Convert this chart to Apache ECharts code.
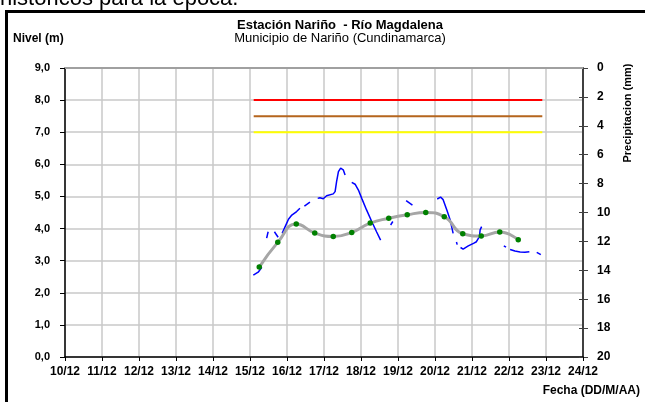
<!DOCTYPE html>
<html>
<head>
<meta charset="utf-8">
<script src="https://cdn.jsdelivr.net/npm/echarts@6/dist/echarts.min.js"></script>
<style>
html,body{margin:0;padding:0;background:#fff;}
#c{width:645px;height:402px;}
</style>
</head>
<body>
<div id="c"></div>
<script>
// ---- data (x = day of December) ----
const xTickLabels = ['10/12','11/12','12/12','13/12','14/12','15/12','16/12','17/12','18/12','19/12','20/12','21/12','22/12','23/12','24/12'];
const levelTicksLeft = ['0,0','1,0','2,0','3,0','4,0','5,0','6,0','7,0','8,0','9,0'];

// threshold levels (red, brown, yellow)
const thresholdStart = 15.1;
const thresholdEnd = 22.9;
const thresholdRed = 8.0;
const thresholdBrown = 7.5;
const thresholdYellow = 7.0;

// smoothed level (gray line, green points)
const smoothDays = [15.25,15.75,16.25,16.75,17.25,17.75,18.25,18.75,19.25,19.75,20.25,20.75,21.25,21.75,22.25];
const smoothLevel = [2.80,3.57,4.14,3.86,3.75,3.88,4.17,4.32,4.43,4.50,4.37,3.84,3.77,3.89,3.65];

// observed level (blue, with gaps marked by null)
const blueDays = [
 15.09,15.22,15.32,null,
 15.45,15.49,null,
 15.66,15.76,null,
 15.87,15.95,16.04,16.13,16.26,16.35,null,
 16.47,16.62,null,
 16.83,16.89,16.98,17.07,17.25,17.30,17.34,17.39,17.45,17.52,17.57,null,
 17.75,17.84,17.93,18.02,18.15,18.29,18.42,18.53,null,
 18.80,18.86,null,
 19.22,19.39,null,
 20.06,20.15,20.22,20.32,20.41,20.49,null,
 20.58,20.60,null,
 20.69,20.76,20.90,21.04,21.12,21.20,21.22,21.26,null,
 21.86,21.92,null,
 22.03,22.16,22.30,22.43,22.55,null,
 22.75,22.86
];
const blueLevel = [
 2.55,2.64,2.79,null,
 3.70,3.90,null,
 3.90,3.73,null,
 3.85,4.06,4.29,4.42,4.53,4.63,null,
 4.70,4.82,null,
 4.94,4.96,4.93,5.02,5.08,5.15,5.46,5.77,5.88,5.83,5.67,null,
 5.44,5.38,5.20,4.94,4.58,4.22,3.90,3.64,null,
 4.11,4.22,null,
 4.87,4.73,null,
 4.92,4.98,4.90,4.58,4.27,3.85,null,
 3.58,3.50,null,
 3.41,3.36,3.46,3.54,3.59,3.75,3.96,4.06,null,
 3.46,3.42,null,
 3.35,3.30,3.27,3.26,3.28,null,
 3.26,3.19
];

// ---- build ----
const FONT = '"Liberation Sans", Arial, sans-serif';
const chart = echarts.init(document.getElementById('c'), null, {renderer:'canvas'});

const blueSegments = [];
let cur = [];
for (let i = 0; i < blueDays.length; i++) {
  if (blueDays[i] === null || blueLevel[i] === null) {
    if (cur.length) blueSegments.push(cur);
    cur = [];
  } else cur.push([blueDays[i], blueLevel[i]]);
}
if (cur.length) blueSegments.push(cur);

const series = [];
function thr(val, color){
  series.push({type:'line', xAxisIndex:0, yAxisIndex:0, data:[[thresholdStart,val],[thresholdEnd,val]],
    showSymbol:false, symbol:'none', lineStyle:{color:color,width:2}, silent:true, z:3});
}
thr(thresholdRed,'#ff0000');
thr(thresholdBrown,'#b5651d');
thr(thresholdYellow,'#ffff00');

blueSegments.forEach(seg => series.push({type:'line', xAxisIndex:0, yAxisIndex:0, data:seg,
  symbol:'none', showSymbol:false, lineStyle:{color:'#0000ff', width:1.5}, silent:true, z:4}));

series.push({type:'line', xAxisIndex:0, yAxisIndex:0,
  data: smoothDays.map((d,i)=>[d, smoothLevel[i]]),
  smooth:0.5, symbol:'circle', symbolSize:5.5, showSymbol:true,
  lineStyle:{color:'#a6a6a6', width:3}, itemStyle:{color:'#008000', borderWidth:0}, z:5, silent:true});

const option = {
  animation:false,
  grid:{left:65, right:62, top:68, bottom:45, containLabel:false},
  xAxis:{type:'value', min:10, max:24, interval:1,
    axisLine:{show:true, onZero:false, lineStyle:{color:'#000', width:1.5}},
    axisTick:{show:true, length:4, lineStyle:{color:'#000'}},
    axisLabel:{formatter:v=>xTickLabels[Math.round(v-10)], fontFamily:FONT, fontSize:12, fontWeight:'bold', color:'#000', margin:9},
    splitLine:{show:true, lineStyle:{color:'#c8c8c8', width:1.5}}},
  yAxis:[
    {type:'value', min:0, max:9, interval:1, position:'left',
     axisLine:{show:true, lineStyle:{color:'#000', width:1.5}},
     axisTick:{show:true, length:5, lineStyle:{color:'#000'}},
     axisLabel:{formatter:v=>levelTicksLeft[Math.round(v)], fontFamily:FONT, fontSize:11, fontWeight:'bold', color:'#000', margin:15},
     splitLine:{show:true, lineStyle:{color:'#c8c8c8', width:1.5}}},
    {type:'value', min:0, max:20, interval:2, position:'right', inverse:true,
     axisLine:{show:true, lineStyle:{color:'#404040', width:2}},
     axisTick:{show:true, length:5, lineStyle:{color:'#404040'}},
     axisLabel:{fontFamily:FONT, fontSize:12, fontWeight:'bold', color:'#000', margin:14},
     splitLine:{show:false}},
    {type:'value', min:0, max:20, interval:2, position:'right', inverse:true,
     axisLine:{show:false},
     axisTick:{show:true, inside:true, length:4, lineStyle:{color:'#404040'}},
     axisLabel:{show:false}, splitLine:{show:false}}
  ],
  graphic:[
    {type:'text', left:0, top:-12, style:{text:'históricos para la época.', font:'22px '+FONT, fill:'#000'}, z:1},
    {type:'rect', shape:{x:6.5, y:11.5, width:700, height:500}, style:{fill:null, stroke:'#000', lineWidth:3}, z:10, silent:true},
    {type:'line', shape:{x1:65, y1:68, x2:583, y2:68}, style:{stroke:'#a0a0a0', lineWidth:2}, z:10},
    {type:'text', x:340, y:25, style:{text:'Estación Nariño  - Río Magdalena', font:'bold 13px '+FONT, fill:'#000', textAlign:'center', textVerticalAlign:'middle'}},
    {type:'text', x:340, y:38, style:{text:'Municipio de Nariño (Cundinamarca)', font:'13px '+FONT, fill:'#000', textAlign:'center', textVerticalAlign:'middle'}},
    {type:'text', x:13, y:39, style:{text:'Nivel (m)', font:'bold 12px '+FONT, fill:'#000', textVerticalAlign:'middle'}},
    {type:'text', x:628, y:113, rotation:Math.PI/2, style:{text:'Precipitacion (mm)', font:'bold 11px '+FONT, fill:'#000', textAlign:'center', textVerticalAlign:'middle'}},
    {type:'text', x:640, y:391, style:{text:'Fecha (DD/M/AA)', font:'bold 12px '+FONT, fill:'#000', textAlign:'right', textVerticalAlign:'middle'}}
  ],
  series: series
};
chart.setOption(option);
</script>
</body>
</html>
